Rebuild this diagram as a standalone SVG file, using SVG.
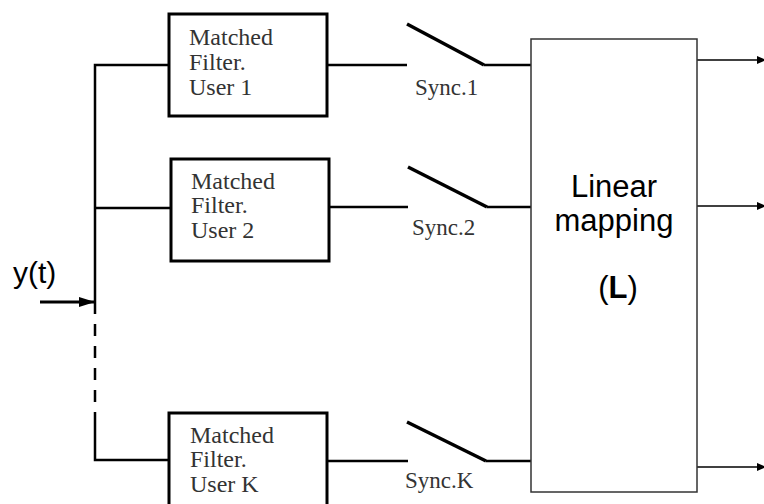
<svg xmlns="http://www.w3.org/2000/svg" width="764" height="504" viewBox="0 0 764 504">
<style>
.box{fill:#fff;stroke:#000;stroke-width:3}
.map{fill:#fff;stroke:#333;stroke-width:1.5}
.wire{fill:none;stroke:#000;stroke-width:2.5}
.thin{fill:none;stroke:#000;stroke-width:1.5}
.blade{fill:none;stroke:#000;stroke-width:3.5}
.ft{font-family:"Liberation Serif","Times New Roman",serif;font-size:24px;fill:#333}
.st{font-family:"Liberation Serif","Times New Roman",serif;font-size:23px;fill:#333}
.lt{font-family:"Liberation Sans",Arial,sans-serif;font-size:31px;fill:#000;text-anchor:middle}
</style>
<defs>
<marker id="ah" markerWidth="10" markerHeight="10" refX="9" refY="5" orient="auto" markerUnits="userSpaceOnUse" viewBox="0 0 10 10">
<path d="M0,1 L9,5 L0,9 Z" fill="#000"/>
</marker>
<marker id="ahBig" markerWidth="18" markerHeight="12" refX="16" refY="6" orient="auto" markerUnits="userSpaceOnUse" viewBox="0 0 18 12">
<path d="M0,1 L16,6 L0,11 Z" fill="#000"/>
</marker>
</defs>
<rect width="764" height="504" fill="#fff"/>
<g id="connectors">
<path class="wire" d="M95,302 V65 H169"/>
<path class="wire" d="M95,208 H171"/>
<path class="wire" d="M95,302 V413" stroke-dasharray="12,10"/>
<path class="wire" d="M95,413 V460 H169"/>
<line class="wire" x1="40" y1="302" x2="95" y2="302" marker-end="url(#ahBig)" style="stroke-width:3"/>
<path class="wire" d="M327,65 H407"/>
<path class="blade" d="M407,24 L484,65"/>
<path class="wire" d="M484,65 H532"/>
<path class="wire" d="M329,207 H408"/>
<path class="blade" d="M408,167 L487,207"/>
<path class="wire" d="M487,207 H532"/>
<path class="wire" d="M327,461 H408"/>
<path class="blade" d="M407,422 L486,461"/>
<path class="wire" d="M486,461 H532"/>
<line class="thin" x1="697" y1="60" x2="766" y2="60" marker-end="url(#ah)"/>
<line class="thin" x1="697" y1="206" x2="766" y2="206" marker-end="url(#ah)"/>
<line class="thin" x1="697" y1="467" x2="766" y2="467" marker-end="url(#ah)"/>
</g>
<g id="mf1">
<rect class="box" x="169" y="14" width="158" height="102"/>
<text class="ft" x="189" y="45">Matched</text>
<text class="ft" x="189" y="70">Filter.</text>
<text class="ft" x="189" y="95">User 1</text>
</g>
<g id="mf2">
<rect class="box" x="171" y="159" width="158" height="102"/>
<text class="ft" x="191" y="189">Matched</text>
<text class="ft" x="191" y="213">Filter.</text>
<text class="ft" x="191" y="238">User 2</text>
</g>
<g id="mfK">
<rect class="box" x="169" y="413" width="158" height="102"/>
<text class="ft" x="190" y="443">Matched</text>
<text class="ft" x="190" y="467">Filter.</text>
<text class="ft" x="190" y="492">User K</text>
</g>
<g id="sync1"><text class="st" x="415" y="95">Sync.1</text></g>
<g id="sync2"><text class="st" x="412" y="235">Sync.2</text></g>
<g id="syncK"><text class="st" x="405" y="488">Sync.K</text></g>
<g id="input"><text x="13" y="283" style="font-family:'Liberation Sans',Arial,sans-serif;font-size:30px;fill:#000">y(t)</text></g>
<g id="mapping">
<rect class="map" x="531" y="39" width="166" height="453"/>
<text class="lt" x="614" y="197">Linear</text>
<text class="lt" x="614" y="231">mapping</text>
<text class="lt" x="618" y="298">(<tspan font-weight="bold">L</tspan>)</text>
</g>
</svg>
